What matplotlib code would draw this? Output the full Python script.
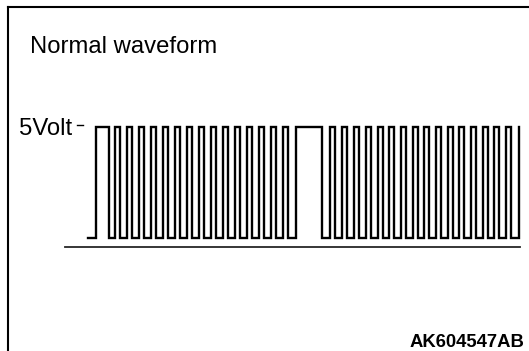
#!/usr/bin/env python3

import matplotlib
matplotlib.use('Agg')
import matplotlib.pyplot as plt
from matplotlib.lines import Line2D

plt.rcParams['font.family'] = ['Liberation Sans', 'DejaVu Sans']

W, H = 529, 351

# signal levels (volts)
V_HIGH = 5
V_LOW = 0

# edge times (time axis in screen units)
t_start = 88
rise_times = [96, 115, 127, 139, 151, 163, 175, 187, 199, 211, 223, 235, 247, 259, 271, 283,
              296, 330, 342, 354, 366, 378, 389, 401, 413, 424, 436, 448, 459, 471, 483, 494,
              506, 519]
fall_times = [109, 120, 132, 144, 156, 168, 180, 192, 204, 216, 228, 240, 252, 264, 276, 288,
              322, 335, 347, 359, 371, 383, 394, 406, 418, 429, 441, 453, 464, 476, 488, 499,
              511]

time_axis_start = 65
time_axis_end = 520
time_axis_level = -0.4

title_text = 'Normal waveform'
level_label = '5Volt'
code_text = 'AK604547AB'

# build the step trace from the edges
xs = [t_start]
ys = [V_LOW]
for i, r in enumerate(rise_times):
    xs += [r, r]
    ys += [V_LOW, V_HIGH]
    if i < len(fall_times):
        f = fall_times[i]
        xs += [f, f]
        ys += [V_HIGH, V_LOW]

fig = plt.figure(figsize=(W / 100, H / 100), dpi=100)
ax = fig.add_axes([0, 0, 1, 1])
ax.set_xlim(0, W)
# 5 V sits at y=127 px, 0 V at y=238 px
px_per_volt = (238 - 127) / 5
ax.set_ylim(-(H - 238) / px_per_volt, 238 / px_per_volt)
ax.axis('off')

ax.plot(xs, ys, color='black', lw=1.7, solid_joinstyle='miter')
ax.plot([time_axis_start, time_axis_end], [time_axis_level, time_axis_level],
        color='0.15', lw=1.3)
# little tick at the 5 V level
ax.plot([77, 83], [V_HIGH + 0.1, V_HIGH + 0.1], color='black', lw=1.0)

def fx(px):
    return px / W

def fy(py):
    return 1 - py / H

# frame (left and top edges)
fig.add_artist(Line2D([fx(8.3), fx(8.3)], [fy(6.7), 0], color='black', lw=1.5))
fig.add_artist(Line2D([fx(8.3), 1], [fy(6.7), fy(6.7)], color='black', lw=1.5))

fig.text(fx(30), fy(53.3), title_text, fontsize=17.2, va='baseline', ha='left')
fig.text(fx(19), fy(135), level_label, fontsize=17.2, va='baseline', ha='left')
fig.text(fx(524), fy(347.3), code_text, fontsize=13.3, fontweight='bold',
         va='baseline', ha='right')

plt.savefig('out.png', dpi=100)
